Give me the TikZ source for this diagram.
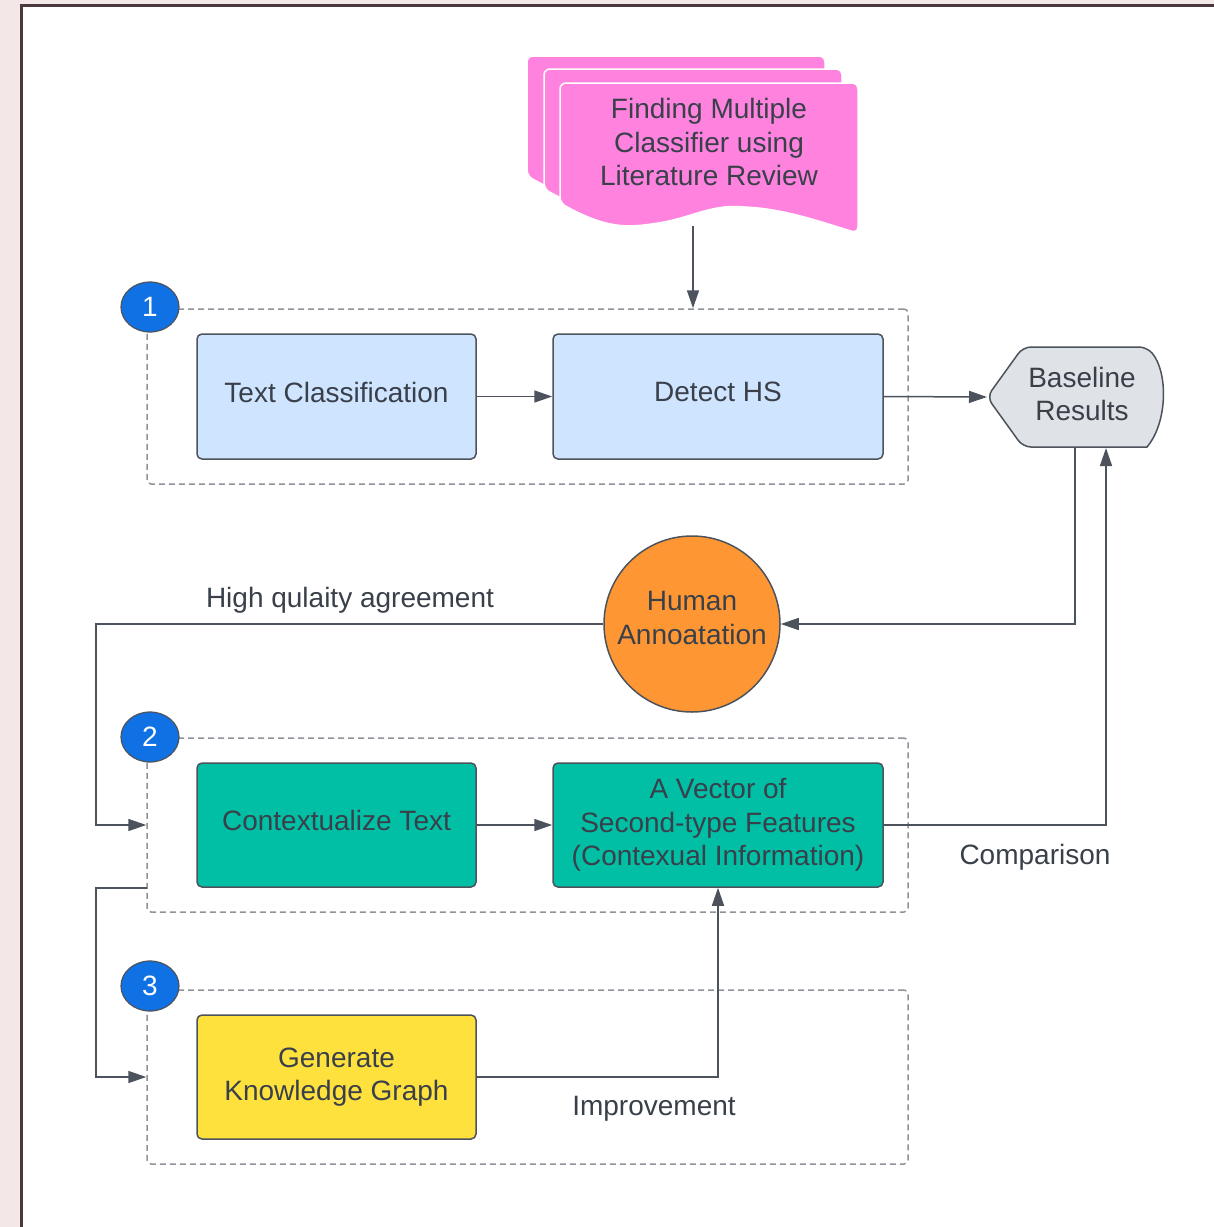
\documentclass[tikz,border=0pt]{standalone}
\usepackage{fontspec}
\setmainfont{Liberation Sans}
\usetikzlibrary{arrows.meta,shapes.geometric}
\definecolor{pagebg}{HTML}{F3E8E7}
\definecolor{framec}{HTML}{4B3A3D}
\definecolor{txtc}{HTML}{39404A}
\definecolor{linec}{HTML}{4D535C}
\definecolor{dashc}{HTML}{8E9399}
\definecolor{bluebox}{HTML}{CFE4FF}
\definecolor{tealbox}{HTML}{00BFA5}
\definecolor{yellowbox}{HTML}{FFE13E}
\definecolor{pinkdoc}{HTML}{FF82DF}
\definecolor{orangec}{HTML}{FF9634}
\definecolor{grayshape}{HTML}{DFE2E6}
\definecolor{numblue}{HTML}{1071E5}
\newcommand\mydocsheet{(560,203) -- (560,83) -- (858,83) -- (858,233) .. controls (830,225) and (790,210) .. (745,207) .. controls (710,205) and (690,218) .. (652,224) .. controls (620,228) and (600,225) .. (560,203) -- cycle}
\begin{document}
\begin{tikzpicture}[x=1pt,y=-1pt,
  every node/.style={font=\fontsize{28}{33.5}\selectfont, text=txtc, align=center},
  grp/.style={draw=dashc, line width=1.5pt, dash pattern=on 6pt off 4pt, rounded corners=4pt, rectangle, inner sep=0pt},
  boxc/.style={draw=linec, line width=1.5pt, rounded corners=5pt, rectangle, inner sep=0pt, minimum height=125, minimum width=279},
  num/.style={ellipse, draw=linec, line width=1.2pt, fill=numblue, text=white, minimum width=58, minimum height=50, inner sep=0pt},
  arr/.style={draw=linec, line width=1.5pt, -{Triangle[length=18pt,width=12pt]}},
  lbl/.style={inner sep=0pt},
  up/.style={label={[lbl,yshift=4.5pt]center:#1}}]
\useasboundingbox (0,0) rectangle (1214,1227);
\fill[pagebg] (0,0) rectangle (1214,1227);
\fill[white] (21,5) rectangle (1214,1227);
\draw[framec, line width=3pt] (21,1227) -- (21,5) -- (1214,5);

% document stack
\begin{scope}[shift={(-33,-27)}]
  \filldraw[fill=pinkdoc, draw=white, line width=1.5pt, rounded corners=6pt] \mydocsheet;
\end{scope}
\begin{scope}[shift={(-16,-14)}]
  \filldraw[fill=pinkdoc, draw=white, line width=1.5pt, rounded corners=6pt] \mydocsheet;
\end{scope}
\filldraw[fill=pinkdoc, draw=white, line width=1.5pt, rounded corners=6pt] \mydocsheet;
\node[lbl] (doc) at (709,142) {Finding Multiple\\Classifier using\\Literature Review};
\coordinate (docb) at (693,226);

% groups
\node[grp, minimum width=761, minimum height=175] (g1) at (527.5,396.5) {};
\node[grp, minimum width=761, minimum height=174] (g2) at (527.5,825) {};
\node[grp, minimum width=761, minimum height=174] (g3) at (527.5,1077) {};

\node[num] (n1) at (150,307) {1};
\node[num] (n2) at (150,737) {2};
\node[num] (n3) at (150,986) {3};

% boxes
\node[boxc, fill=bluebox, up={Text Classification}] (tc) at (336.5,396.5) {};
\node[boxc, fill=bluebox, minimum width=330, up={Detect HS}] (dhs) at (718,396.5) {};
\node[boxc, fill=tealbox, minimum height=124, up={Contextualize Text}] (ct) at (336.5,825) {};
\node[boxc, fill=tealbox, minimum width=330, minimum height=124] (vec) at (718,825) {A Vector of\\Second-type Features\\(Contexual Information)};
\node[boxc, fill=yellowbox, minimum height=124] (gkg) at (336.5,1077) {Generate\\Knowledge Graph};

% baseline display shape
\filldraw[fill=grayshape, draw=linec, line width=1.5pt, rounded corners=8pt]
  (987,397) -- (1023,347) -- (1147,347) [sharp corners] .. controls (1168,372) and (1168,422) .. (1147,447) [rounded corners=8pt] -- (1023,447) -- cycle;
\node[lbl] (base) at (1082,394) {Baseline\\Results};
\coordinate (basetip) at (987,397);
\coordinate (basebl) at (1075,447);
\coordinate (basebr) at (1106,448);

% human annotation
\node[circle, draw=linec, line width=1.5pt, fill=orangec, minimum size=176, inner sep=0pt, label={[lbl,yshift=6pt]center:Human\\Annoatation}] (ha) at (692,624) {};

% connectors
\coordinate (lx) at (96,0);
\coordinate (g2out) at (147,888);
\draw[arr] (docb) -- (docb |- g1.north);
\draw[arr] (tc.east) -- (dhs.west);
\draw[arr] (dhs.east) -- (basetip);
\draw[arr] (basebl) |- (ha.east);
\draw[arr] (vec.east) -| (basebr);
\draw[arr] (ha.west) -- (ha.west -| lx) |- (g2.west);
\draw[arr] (ct.east) -- (vec.west);
\draw[arr] (g2out) -- (g2out -| lx) |- (g3.west);
\draw[arr] (gkg.east) -| (vec.south);

% labels
\node[lbl] (lhq) at (350,600) {High qulaity agreement};
\node[lbl] (lcmp) at (1035,857) {Comparison};
\node[lbl] (limp) at (654,1109) {Improvement};
\end{tikzpicture}
\end{document}
